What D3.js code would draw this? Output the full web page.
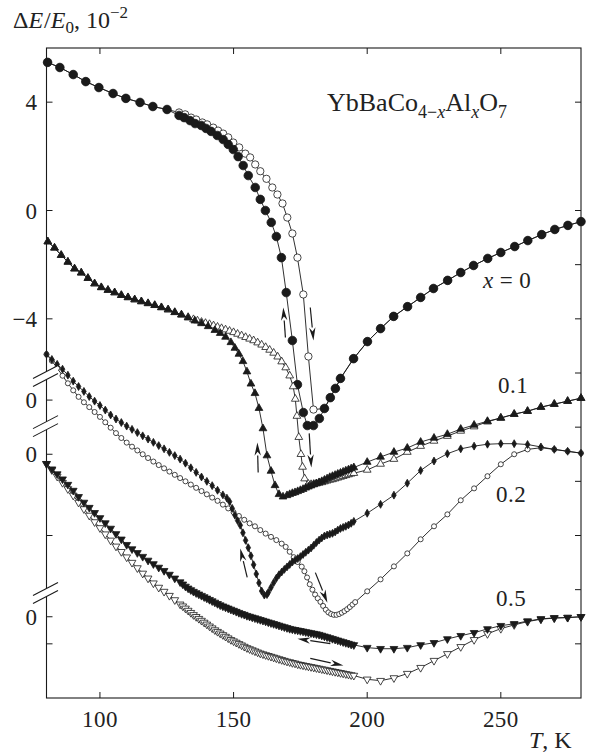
<!DOCTYPE html>
<html>
<head>
<meta charset="utf-8">
<script src="https://cdn.jsdelivr.net/npm/d3@7"></script>
<style>
  body { margin: 0; background: #fff; }
  svg text { font-family: "Liberation Serif", "DejaVu Serif", serif; fill: #222; }
</style>
</head>
<body>
<svg id="chart" width="589" height="753"></svg>
<script>
// ---- data: [T (K), dE/E0 in 1e-2, relative to each curve's own zero] ----
const x0Cool = [[80.4,5.47],[85,5.28],[90,5.02],[94.7,4.76],[99.6,4.54],[104.9,4.32],[109.7,4.14],[115,3.99],[119.8,3.84],[125.1,3.73],
  [129.6,3.51],[131.5,3.43],[133.7,3.32],[135.6,3.21],[137.9,3.14],[139.7,3.03],[141.6,2.92],[143.9,2.77],[146.1,2.62],[148,2.44],
  [149.9,2.25],[151.7,1.99],[153.6,1.66],[155.5,1.29],[158.1,0.85],[160,0.41],[161.9,0],[164.1,-0.44],[166,-0.96],[167.9,-1.74],
  [169.7,-3.03],[172,-4.8],[173.9,-6.43],[176.1,-7.46],[177.6,-7.94],[179.9,-7.94],[182.1,-7.68],[184,-7.31],[186.2,-6.91],[188.1,-6.57],
  [190,-6.2],[194.9,-5.47],[200.1,-4.84],[205,-4.36],[209.9,-3.91],[215.1,-3.55],[220,-3.21],[224.8,-2.88],[230.1,-2.58],[235,-2.29],
  [239.8,-2.03],[245.1,-1.77],[250,-1.55],[255.2,-1.33],[260.1,-1.11],[265.3,-0.89],[270.2,-0.7],[275.1,-0.55],[280,-0.41]];
const x0Heat = [[80.4,5.47],[85,5.28],[90,5.02],[94.7,4.76],[99.6,4.54],[104.9,4.32],[109.7,4.14],[115,3.99],[119.8,3.84],[125.1,3.73],
  [129.6,3.62],[131.9,3.55],[134.1,3.43],[136,3.36],[138.3,3.25],[140.1,3.18],[142.4,3.06],[144.2,2.95],[146.1,2.84],[148,2.7],
  [149.9,2.51],[152.1,2.33],[154.4,2.1],[156.2,1.96],[158.1,1.7],[160,1.45],[162.3,1.17],[164.5,0.85],[166.4,0.59],[168.3,0.26],
  [170.1,-0.26],[172,-0.85],[173.9,-1.74],[176.1,-3.1],[178,-5.39],[179.9,-7.35],[184,-7.31],[186.2,-6.91],[188.1,-6.57],
  [190,-6.2],[194.9,-5.47],[200.1,-4.84],[205,-4.36],[209.9,-3.91],[215.1,-3.55],[220,-3.21],[224.8,-2.88],[230.1,-2.58],[235,-2.29],
  [239.8,-2.03],[245.1,-1.77],[250,-1.55],[255.2,-1.33],[260.1,-1.11],[265.3,-0.89],[270.2,-0.7],[275.1,-0.55],[280,-0.41]];

const x01Cool = [[80.5,5.85],[83,5.62],[85.5,5.35],[88,5.1],[90.5,4.85],[93,4.7],[95.5,4.5],[98,4.3],[100.5,4.16],[103,4.06],
  [105.5,3.97],[108,3.87],[110.5,3.79],[113,3.71],[115.5,3.64],[118,3.57],[120.5,3.5],[123,3.42],[125.5,3.34],[128,3.24],
  [130.5,3.15],[133,3.04],[135.5,2.93],[138,2.83],[140.5,2.72],[143,2.58],[145,2.47],[147,2.33],[149,2.13],[150.5,1.92],
  [152,1.7],[153.5,1.43],[155,1.05],[156.5,0.6],[158,0.25],[159.5,-0.3],[161,-1.05],[162.5,-2.05],[164,-2.62],[165.5,-3.15],
  [167,-3.48],[168.5,-3.57],[170,-3.52],[171,-3.48],[172,-3.44],[173,-3.41],[174,-3.37],[175,-3.33],[176,-3.29],[177,-3.24],
  [178,-3.2],[179,-3.16],[180,-3.12],[181,-3.08],[182,-3.04],[183,-3],[184,-2.95],[185,-2.9],[186,-2.85],[187,-2.81],
  [188,-2.77],[189,-2.73],[190,-2.69],[191,-2.65],[192,-2.61],[193,-2.57],[194,-2.53],[195,-2.49],[200,-2.29],[205,-2.1],
  [210,-1.92],[215,-1.77],[220,-1.55],[225,-1.4],[230,-1.26],[235,-1.07],[240,-0.92],[245,-0.78],[250,-0.66],[255,-0.52],
  [260,-0.41],[265,-0.26],[270,-0.15],[275,-0.04],[280,0.07]];
const x01Heat = [[80.5,5.85],[83,5.62],[85.5,5.35],[88,5.1],[90.5,4.85],[93,4.7],[95.5,4.5],[98,4.3],[100.5,4.16],[103,4.06],
  [105.5,3.97],[108,3.87],[110.5,3.79],[113,3.71],[115.5,3.64],[118,3.57],[120.5,3.5],[123,3.42],[125.5,3.34],[128,3.24],
  [130.5,3.15],[133,3.06],[135,2.98],[136.5,2.93],[138,2.88],[139.5,2.84],[141,2.8],[142.5,2.75],[144,2.7],[145.5,2.65],
  [147,2.6],[148.5,2.55],[150,2.5],[151.5,2.44],[153,2.38],[154.5,2.32],[156,2.26],[157.5,2.2],[159,2.12],[160.5,2.04],
  [162,1.95],[163.5,1.85],[165,1.74],[166.5,1.6],[168,1.42],[169.5,1.2],[171,0.9],[172.3,0.5],[173.1,0.04],[173.7,-0.59],
  [174.4,-1.37],[175.2,-2],[175.8,-2.47],[176.6,-2.9],[178,-3.1],[179,-3.11],[180,-3.1],[181,-3.08],[182,-3.06],[183,-3.04],
  [184,-3.01],[185,-2.98],[186,-2.95],[187,-2.93],[188,-2.9],[189,-2.87],[190,-2.84],[191,-2.81],[192,-2.78],[193,-2.75],
  [194,-2.72],[195,-2.7],[200,-2.58],[205,-2.36],[210,-2.18],[215,-1.92],[220,-1.7],[225,-1.51],[230,-1.33],[235,-1.14],
  [240,-0.98],[245,-0.8],[250,-0.66],[255,-0.52],[260,-0.41],[265,-0.26],[270,-0.15],[275,-0.04],[280,0.07]];

const x02Cool = [[80,3.69],[82,3.5],[84,3.32],[86,3.14],[88,2.92],[90,2.7],[92,2.5],[94,2.32],[96,2.13],[98,1.96],
  [100,1.8],[102,1.63],[104,1.45],[106,1.3],[108,1.17],[110,1.04],[112,0.92],[114,0.8],[116,0.68],[118,0.56],
  [120,0.44],[122,0.32],[124,0.2],[126,0.07],[128,-0.05],[130,-0.18],[132,-0.33],[134,-0.5],[136,-0.67],[138,-0.84],
  [140,-1],[142,-1.16],[144,-1.33],[146,-1.5],[147.5,-1.62],[148.5,-1.75],[149.5,-2],[150.5,-2.25],[151.5,-2.45],[152.5,-2.62],
  [153.5,-2.9],[154.5,-3.18],[155.5,-3.45],[156.5,-3.75],[157.5,-4.08],[158.5,-4.42],[159.5,-4.75],[160.5,-5.05],[161.5,-5.2],[162.5,-5.18],
  [163,-5.1],[164,-4.92],[165,-4.74],[166,-4.58],[167,-4.45],[168,-4.35],[169,-4.25],[170,-4.16],[171,-4.07],[172,-3.98],
  [173,-3.91],[174,-3.85],[175,-3.78],[176,-3.7],[177,-3.62],[178,-3.54],[179,-3.46],[180,-3.36],[181,-3.26],[182,-3.17],
  [183,-3.09],[184,-3.02],[185,-2.98],[186,-2.95],[187,-2.92],[188,-2.87],[189,-2.8],[190,-2.74],[191,-2.7],[192,-2.66],
  [193,-2.61],[194,-2.55],[195,-2.48],[200,-2.18],[205,-1.85],[210,-1.51],[215,-1.07],[220,-0.6],[225,-0.25],[230,0.02],
  [235,0.2],[240,0.3],[245,0.37],[250,0.39],[255,0.39],[260,0.36],[265,0.27],[270,0.18],[275,0.11],[280,0.04]];
const x02Heat = [[80,3.69],[82,3.45],[84,3.18],[86,2.9],[88,2.62],[90,2.36],[92,2.12],[94,1.92],[96,1.74],[98,1.56],
  [100,1.38],[102,1.18],[104,0.98],[106,0.78],[108,0.6],[110,0.43],[112,0.28],[114,0.14],[116,0],[118,-0.14],
  [120,-0.27],[122,-0.4],[124,-0.52],[126,-0.64],[128,-0.76],[130,-0.88],[132,-1],[134,-1.12],[136,-1.24],[138,-1.36],
  [140,-1.48],[142,-1.6],[144,-1.72],[146,-1.86],[148,-2],[150,-2.14],[152,-2.28],[154,-2.42],[156,-2.55],[158,-2.66],
  [160,-2.8],[162,-2.93],[164,-3.05],[166,-3.17],[168,-3.3],[169.5,-3.42],[171,-3.6],[172.5,-3.8],[174,-3.98],[175.5,-4.15],
  [176.5,-4.32],[177.5,-4.55],[178.5,-4.8],[179.5,-5],[180.5,-5.18],[181.5,-5.32],[182.5,-5.45],[183.5,-5.6],[184.5,-5.74],[185.5,-5.84],
  [186.5,-5.9],[187.5,-5.93],[188.5,-5.93],[189.5,-5.9],[190.5,-5.85],[191.5,-5.79],[192.5,-5.72],[193.5,-5.64],[194.5,-5.55],[195.5,-5.46],
  [200,-5.06],[205,-4.62],[210,-4.14],[215,-3.66],[220,-3.14],[225,-2.66],[230,-2.22],[235,-1.7],[240,-1.26],[245,-0.81],
  [250,-0.37],[255,0],[260,0.18],[265,0.24],[270,0.18],[275,0.11],[280,0.04]];

const x05Cool = [[80,5.65],[82,5.45],[84,5.27],[86,5.08],[88,4.88],[90,4.66],[92,4.43],[94,4.22],[96,4.03],[98,3.84],
  [100,3.65],[102,3.46],[104,3.26],[106,3.06],[108,2.86],[110,2.66],[112,2.5],[114,2.36],[116,2.22],[118,2.08],
  [120,1.95],[122,1.82],[124,1.7],[126,1.56],[128,1.42],[130,1.28],[131,1.2],[132,1.12],[133,1.05],[134,0.99],
  [135,0.93],[136,0.88],[137,0.83],[138,0.78],[139,0.73],[140,0.68],[141,0.63],[142,0.58],[143,0.53],[144,0.48],
  [145,0.43],[146,0.39],[147,0.35],[148,0.31],[149,0.27],[150,0.23],[151,0.19],[152,0.15],[153,0.11],[154,0.08],
  [155,0.04],[156,0.01],[157,-0.02],[158,-0.05],[159,-0.08],[160,-0.11],[161,-0.14],[162,-0.17],[163,-0.2],[164,-0.23],
  [165,-0.26],[166,-0.29],[167,-0.32],[168,-0.35],[169,-0.38],[170,-0.41],[171,-0.44],[172,-0.46],[173,-0.48],[174,-0.5],
  [175,-0.52],[176,-0.54],[177,-0.56],[178,-0.58],[179,-0.6],[180,-0.62],[181,-0.64],[182,-0.66],[183,-0.69],[184,-0.72],
  [185,-0.75],[186,-0.78],[187,-0.81],[188,-0.84],[189,-0.87],[190,-0.9],[191,-0.93],[192,-0.96],[193,-0.99],[194,-1.02],
  [195,-1.04],[200,-1.14],[205,-1.18],[210,-1.18],[215,-1.14],[220,-1.04],[225,-0.96],[230,-0.82],[235,-0.7],[240,-0.59],
  [245,-0.45],[250,-0.33],[255,-0.26],[260,-0.16],[265,-0.08],[270,-0.04],[275,-0.03],[280,0]];
const x05Heat = [[80,5.65],[82,5.42],[84,5.18],[86,4.95],[88,4.72],[90,4.48],[92,4.22],[94,3.98],[96,3.74],[98,3.5],
  [100,3.28],[102,3.05],[104,2.82],[106,2.6],[108,2.4],[110,2.2],[112,2],[114,1.8],[116,1.6],[118,1.42],
  [120,1.24],[122,1.08],[124,0.93],[126,0.78],[128,0.62],[130,0.46],[131,0.39],[132,0.31],[133,0.23],[134,0.15],
  [135,0.07],[136,0],[137,-0.07],[138,-0.14],[139,-0.21],[140,-0.28],[141,-0.35],[142,-0.42],[143,-0.49],[144,-0.55],
  [145,-0.61],[146,-0.67],[147,-0.73],[148,-0.79],[149,-0.85],[150,-0.9],[151,-0.95],[152,-1],[153,-1.05],[154,-1.1],
  [155,-1.15],[156,-1.19],[157,-1.23],[158,-1.27],[159,-1.31],[160,-1.35],[161,-1.38],[162,-1.41],[163,-1.44],[164,-1.47],
  [165,-1.5],[166,-1.53],[167,-1.56],[168,-1.59],[169,-1.62],[170,-1.65],[171,-1.67],[172,-1.7],[173,-1.72],[174,-1.75],
  [175,-1.77],[176,-1.79],[177,-1.81],[178,-1.83],[179,-1.85],[180,-1.87],[181,-1.89],[182,-1.91],[183,-1.93],[184,-1.95],
  [185,-1.97],[186,-1.99],[187,-2.01],[188,-2.03],[189,-2.05],[190,-2.07],[191,-2.09],[192,-2.11],[193,-2.13],[194,-2.15],
  [195,-2.17],[200,-2.31],[205,-2.36],[210,-2.26],[215,-2.1],[220,-1.88],[225,-1.62],[230,-1.37],[235,-1.11],[240,-0.85],
  [245,-0.63],[250,-0.44],[255,-0.3],[260,-0.18],[265,-0.09],[270,-0.05],[275,-0.03],[280,0]];

// vertical shift of each composition's zero on the common axis
const offsets = [0, -7, -9, -15];
const compLabels = ["0", "0.1", "0.2", "0.5"];

const xTicks = [100, 150, 200, 250];
const leftTicks = [4, 0, -4, -7, -9, -12, -15, -16];
const leftTickLabels = ["4", "0", "\u22124", "0", "0", "", "0", ""];
const rightTicks = [4, 0, -2, -4, -6, -8, -10, -12, -14, -16];
const axisBreaks = [-6.13, -7.98, -14.14];

// arrows: [T1, v1, T2, v2] on the common axis (tail -> head)
const arrows = [[169.4,-4.69,168.6,-3.58],[178.7,-3.58,179.9,-4.8],
  [159.2,-9.67,158.9,-8.57],[178.3,-8.23,179.1,-9.49],
  [155.1,-13.55,152.5,-12.48],[180.6,-13.37,185.1,-14.48],
  [186.2,-15.99,173.9,-15.81],[178.7,-16.54,191.1,-16.8]];

// ---- drawing ----
const svg = d3.select("#chart");
const mLeft = 46.5, mRight = 581, mTop = 48, mBottom = 698;
const x = d3.scaleLinear().domain([80, 280]).range([mLeft, mRight]);
const y = d3.scaleLinear().domain([-18, 6]).range([mBottom, mTop]);
const ink = "#1a1a1a";

const series = [
  { data: x0Heat, k: 0, shape: d3.symbolCircle, size: 42, fill: false },
  { data: x0Cool, k: 0, shape: d3.symbolCircle, size: 58, fill: true },
  { data: x01Heat, k: 1, shape: d3.symbolTriangle, size: 26, fill: false },
  { data: x01Cool, k: 1, shape: d3.symbolTriangle, size: 26, fill: true },
  { data: x02Heat, k: 2, shape: d3.symbolCircle, size: 20, fill: false },
  { data: x02Cool, k: 2, shape: d3.symbolDiamond, size: 18, fill: true },
  { data: x05Heat, k: 3, shape: d3.symbolTriangle, size: 26, fill: false, flip: true },
  { data: x05Cool, k: 3, shape: d3.symbolTriangle, size: 26, fill: true, flip: true }
];

const line = d3.line();
const plot = svg.append("g");

series.forEach(s => {
  const pts = s.data.map(d => [x(d[0]), y(d[1] + offsets[s.k])]);
  plot.append("path")
    .attr("d", line(pts))
    .attr("fill", "none")
    .attr("stroke", ink)
    .attr("stroke-width", 0.9);
  plot.append("g").selectAll("path")
    .data(pts)
    .join("path")
    .attr("transform", p => `translate(${p[0]},${p[1]})` + (s.flip ? " rotate(180)" : ""))
    .attr("d", d3.symbol().type(s.shape).size(s.size))
    .attr("fill", s.fill ? ink : "#fff")
    .attr("stroke", ink)
    .attr("stroke-width", 0.8);
});

// arrows
arrows.forEach(a => {
  const x1 = x(a[0]), y1 = y(a[1]), x2 = x(a[2]), y2 = y(a[3]);
  const ang = Math.atan2(y2 - y1, x2 - x1);
  const len = 13, w = 3.2;
  const bx = x2 - len * Math.cos(ang), by = y2 - len * Math.sin(ang);
  svg.append("line")
    .attr("x1", x1).attr("y1", y1).attr("x2", bx).attr("y2", by)
    .attr("stroke", ink).attr("stroke-width", 1.2);
  svg.append("path")
    .attr("d", `M${x2},${y2}L${bx - w * Math.sin(ang)},${by + w * Math.cos(ang)}` +
      `L${x2 - 0.7 * len * Math.cos(ang)},${y2 - 0.7 * len * Math.sin(ang)}` +
      `L${bx + w * Math.sin(ang)},${by - w * Math.cos(ang)}Z`)
    .attr("fill", ink);
});

// frame
svg.append("rect")
  .attr("x", mLeft).attr("y", mTop)
  .attr("width", mRight - mLeft).attr("height", mBottom - mTop)
  .attr("fill", "none").attr("stroke", ink).attr("stroke-width", 1.1);

const tl = 6;
xTicks.forEach(t => {
  svg.append("line").attr("x1", x(t)).attr("x2", x(t)).attr("y1", mBottom).attr("y2", mBottom - tl).attr("stroke", ink);
  svg.append("line").attr("x1", x(t)).attr("x2", x(t)).attr("y1", mTop).attr("y2", mTop + tl).attr("stroke", ink);
  svg.append("text").attr("x", x(t)).attr("y", 727).attr("text-anchor", "middle")
    .attr("font-size", 23).attr("letter-spacing", 0.4).text(t);
});
leftTicks.forEach((t, i) => {
  svg.append("line").attr("x1", mLeft).attr("x2", mLeft + tl).attr("y1", y(t)).attr("y2", y(t)).attr("stroke", ink);
  if (leftTickLabels[i]) {
    svg.append("text").attr("x", 37).attr("y", y(t) + 8).attr("text-anchor", "end")
      .attr("font-size", 23).text(leftTickLabels[i]);
  }
});
rightTicks.forEach(t => {
  svg.append("line").attr("x1", mRight).attr("x2", mRight - tl).attr("y1", y(t)).attr("y2", y(t)).attr("stroke", ink);
});

// axis break marks
axisBreaks.forEach(b => {
  const yc = y(b);
  svg.append("path")
    .attr("d", `M33,${yc + 2}L58,${yc - 11}L58,${yc - 3}L33,${yc + 10}Z`)
    .attr("fill", "#fff");
  [-4, 4].forEach(dy => {
    svg.append("line")
      .attr("x1", 33).attr("y1", yc + 6 + dy)
      .attr("x2", 58).attr("y2", yc - 7 + dy)
      .attr("stroke", ink).attr("stroke-width", 1.1);
  });
});

// axis titles
const yl = svg.append("text").attr("x", 13).attr("y", 28).attr("font-size", 24);
yl.append("tspan").text("\u0394");
yl.append("tspan").attr("font-style", "italic").text("E");
yl.append("tspan").attr("dx", 1).text("/");
yl.append("tspan").attr("font-style", "italic").text("E");
yl.append("tspan").attr("font-size", 17).attr("dy", 5).text("0");
yl.append("tspan").attr("dy", -5).text(", 10");
yl.append("tspan").attr("font-size", 17).attr("dy", -10).text("\u22122");

const xl = svg.append("text").attr("x", 529).attr("y", 748).attr("font-size", 24);
xl.append("tspan").attr("font-style", "italic").text("T");
xl.append("tspan").text(", K");

// compound name
const tt = svg.append("text").attr("x", 327).attr("y", 111).attr("font-size", 26);
tt.append("tspan").text("YbBaCo");
tt.append("tspan").attr("font-size", 18).attr("dy", 7).text("4\u2212");
tt.append("tspan").attr("font-size", 18).attr("font-style", "italic").text("x");
tt.append("tspan").attr("dy", -7).text("Al");
tt.append("tspan").attr("font-size", 18).attr("font-style", "italic").attr("dy", 7).text("x");
tt.append("tspan").attr("dy", -7).text("O");
tt.append("tspan").attr("font-size", 18).attr("dy", 7).text("7");

// composition labels
const labelPos = [[483, 288], [498, 393], [496, 502], [496, 606]];
compLabels.forEach((c, i) => {
  const t = svg.append("text").attr("x", labelPos[i][0]).attr("y", labelPos[i][1])
    .attr("font-size", 23).attr("letter-spacing", 0.5);
  if (i === 0) {
    t.append("tspan").attr("font-style", "italic").text("x");
    t.append("tspan").attr("dx", 6).text("=");
    t.append("tspan").attr("dx", 6).text(c);
  } else {
    t.text(c);
  }
});
</script>
</body>
</html>
